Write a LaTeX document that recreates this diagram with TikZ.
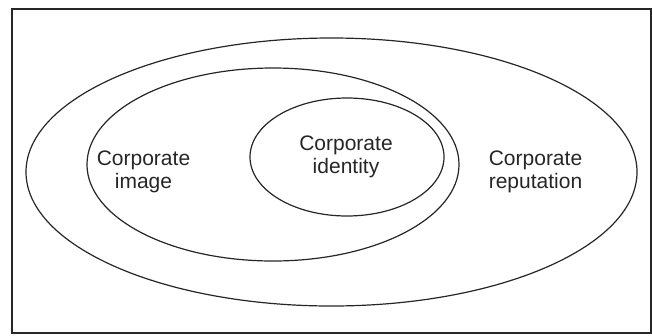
\documentclass[tikz,border=0pt]{standalone}
\usepackage{fontspec}
\setmainfont{Liberation Sans}
\begin{document}
\begin{tikzpicture}[x=1pt,y=-1pt,
  ring/.style={draw=black!85, line width=1.2pt},
  label/.style={align=center, inner sep=0pt, font=\fontsize{21}{23}\selectfont, text=black!85}]
\useasboundingbox (0,0) rectangle (652,335);
\draw[black!85, line width=2pt] (11.5,9) rectangle (651,333);
\draw[ring] (331.5,172) ellipse [x radius=305.5, y radius=134];
\draw[ring] (273,164.5) ellipse [x radius=186, y radius=96.5];
\draw[ring] (347,157) ellipse [x radius=97, y radius=59];
\node[label] (image) at (143.5,171.5) {Corporate\\image};
\node[label] (identity) at (346,156.5) {Corporate\\identity};
\node[label] (reputation) at (535.5,172) {Corporate\\reputation};
\end{tikzpicture}
\end{document}
